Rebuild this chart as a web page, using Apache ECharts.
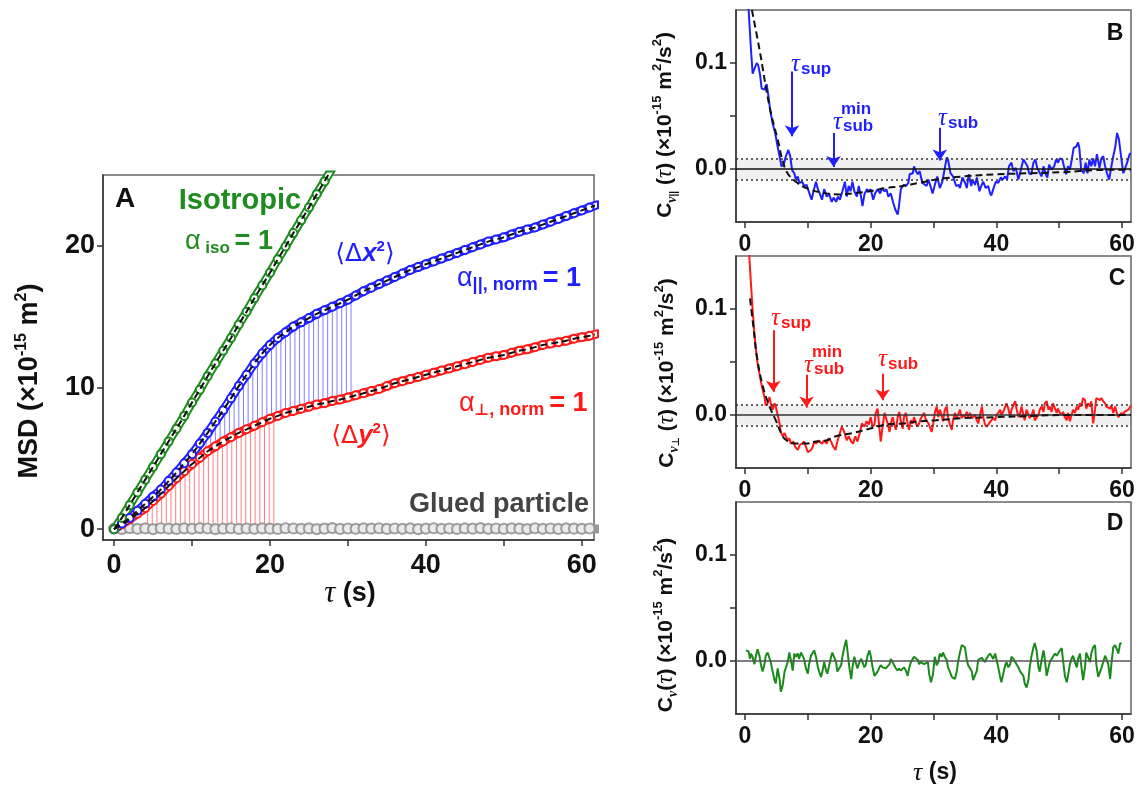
<!DOCTYPE html>
<html>
<head>
<meta charset="utf-8">
<script src="https://cdn.jsdelivr.net/npm/echarts@6.0.0/dist/echarts.min.js"></script>
<style>html,body{margin:0;padding:0;background:#ffffff;}#chart{width:1141px;height:787px;}</style>
</head>
<body>
<div id="chart"></div>
<script>
// ---------- Panel A : MSD ----------
const msdTau = [0,1,2,3,4,5,6,7,8,9,10,11,12,13,14,15,16,17,18,19,20,21,22,23,24,25,26,27,28,29,30,31,32,33,34,35,36,37,38,39,40,41,42,43,44,45,46,47,48,49,50,51,52,53,54,55,56,57,58,59,60,61,62];
const msdX = [0,0.4,0.8,1.3,1.8,2.3,2.8,3.4,4.0,4.65,5.3,6.05,6.8,7.6,8.4,9.25,10.1,10.9,11.7,12.4,13.0,13.5,13.9,14.3,14.6,14.9,15.2,15.45,15.7,15.95,16.2,16.5,16.8,17.05,17.3,17.55,17.8,18.05,18.3,18.5,18.7,18.9,19.1,19.3,19.5,19.7,19.9,20.1,20.3,20.45,20.6,20.8,21.0,21.15,21.3,21.5,21.7,21.9,22.1,22.3,22.5,22.7,22.9];
const msdY = [0,0.35,0.7,1.1,1.5,2.0,2.5,3.05,3.6,4.1,4.6,5.05,5.5,5.85,6.2,6.5,6.8,7.05,7.3,7.55,7.8,8.0,8.2,8.35,8.5,8.65,8.8,8.9,9.05,9.15,9.3,9.45,9.6,9.75,9.9,10.1,10.3,10.45,10.6,10.75,10.9,11.05,11.2,11.35,11.5,11.65,11.8,11.95,12.1,12.2,12.3,12.45,12.6,12.7,12.85,13.0,13.1,13.2,13.3,13.45,13.55,13.65,13.8];
const isoTau = [0,1,2,3,4,5,6,7,8,9,10,11,12,13,14,15,16,17,18,19,20,21,22,23,24,25,26,27,28];
const msdIso = [0,0.8,1.7,2.6,3.5,4.4,5.3,6.2,7.1,8.0,8.95,9.85,10.8,11.7,12.6,13.5,14.45,15.35,16.3,17.2,18.1,19.05,19.95,20.9,21.8,22.7,23.65,24.55,25.5];
const msdGlued = [0.05,0.02,0.08,0.03,0.06,0.01,0.07,0.04,0.02,0.06,0.03,0.08,0.05,0.01,0.04,0.07,0.02,0.05,0.03,0.06,0.04,0.02,0.07,0.05,0.03,0.06,0.01,0.04,0.08,0.02,0.05,0.03,0.06,0.04,0.07,0.02,0.05,0.03,0.06,0.01,0.04,0.07,0.03,0.05,0.02,0.06,0.04,0.08,0.03,0.05,0.02,0.06,0.04,0.01,0.07,0.03,0.05,0.02,0.06,0.04,0.03,0.05,0.02];
const dropRedTau = [4.3,4.9,5.5,6.1,6.7,7.3,7.9,8.5,9.1,9.7,10.3,10.9,11.5,12.1,12.7,13.3,13.9,14.5,15.1,15.7,16.3,16.9,17.5,18.1,18.7,19.3,19.9,20.5];
const dropRedTop = [1.65,1.95,2.25,2.55,2.88,3.2,3.55,3.85,4.15,4.45,4.73,5.0,5.27,5.53,5.75,5.95,6.17,6.35,6.53,6.71,6.88,7.03,7.18,7.33,7.48,7.63,7.78,7.9];
const dropRedBase = 0.3;
const dropBlueTau = [9.4,10.0,10.6,11.2,11.8,12.4,13.0,13.6,14.2,14.8,15.4,16.0,16.6,17.2,17.8,18.4,19.0,19.6,20.2,20.8,21.4,22.0,22.6,23.2,23.8,24.4,25.0,25.6,26.2,26.8,27.4,28.0,28.6,29.2,29.8,30.4];
const dropBlueTop = [4.9,5.3,5.75,6.2,6.65,7.12,7.6,8.08,8.57,9.08,9.59,10.1,10.58,11.06,11.54,11.98,12.4,12.76,13.1,13.4,13.66,13.9,14.14,14.36,14.54,14.72,14.9,15.08,15.25,15.4,15.55,15.7,15.85,16.0,16.15,16.32];
const dropBlueBottom = [4.3,4.6,4.87,5.14,5.41,5.64,5.85,6.06,6.26,6.44,6.62,6.8,6.95,7.1,7.25,7.4,7.55,7.7,7.84,7.96,8.08,8.2,8.29,8.38,8.47,8.56,8.65,8.74,8.82,8.88,8.96,9.05,9.11,9.18,9.27,9.36];
const msdXTicks = [0,10,20,30,40,50,60];
const msdXLabels = [0,20,40,60];
const msdYTicks = [0,10,20];

// ---------- Panel B ----------
const bTau = [0.45,0.58,0.95,1.22,1.5,1.86,2.1,2.4,2.65,3.1,3.45,3.7,4.0,4.4,4.8,5.2,5.6,5.8,6.15,6.5,6.9,7.2,7.5,7.85,8.1,8.4,8.65,9.1,9.4,9.8,10.2,10.6,10.9,11.3,11.6,11.9,12.25,12.6,13.0,13.4,13.8,14.1,14.5,14.8,15.1,15.5,15.9,16.2,16.5,16.8,17.1,17.4,17.8,18.1,18.4,18.7,19.0,19.4,19.7,20.0,20.4,20.7,21.1,21.5,21.8,22.2,22.5,22.8,23.2,23.6,23.9,24.3,24.5,24.8,25.2,25.6,26.0,26.2,26.7,26.9,27.2,27.5,27.8,28.2,28.5,28.9,29.2,29.6,29.85,30.2,30.6,31.0,31.4,31.8,32.1,32.3,32.7,33.1,33.6,34.0,34.2,34.6,35.0,35.3,35.6,36.0,36.2,36.6,36.9,37.3,37.6,37.9,38.3,38.7,39.0,39.2,39.5,39.9,40.3,40.7,41.0,41.4,41.7,42.0,42.4,42.7,43.1,43.5,43.9,44.3,44.6,44.96,45.2,45.55,45.9,46.2,46.5,46.8,47.2,47.5,47.8,48.1,48.4,48.8,49.2,49.5,49.8,50.1,50.5,50.75,51.1,51.4,51.7,52.0,52.3,52.7,53.0,53.2,53.5,53.9,54.2,54.5,54.8,55.1,55.4,55.7,56.0,56.4,56.7,57.0,57.3,57.6,57.95,58.3,58.6,58.9,59.2,59.5,59.9,60.2,60.5,60.8,61.2,61.4];
const bCv = [0.17,0.15,0.113,0.09,0.089,0.10,0.098,0.089,0.076,0.075,0.080,0.070,0.056,0.043,0.034,0.021,0.009,0.0025,0.004,0.012,0.018,0.012,-0.001,-0.004,-0.01,-0.007,-0.013,-0.012,-0.016,-0.015,-0.022,-0.029,-0.021,-0.012,-0.019,-0.023,-0.029,-0.019,-0.026,-0.024,-0.031,-0.027,-0.031,-0.026,-0.029,-0.021,-0.012,-0.026,-0.016,-0.021,-0.012,-0.021,-0.026,-0.016,-0.024,-0.035,-0.024,-0.019,-0.021,-0.019,-0.029,-0.023,-0.019,-0.023,-0.018,-0.021,-0.019,-0.026,-0.023,-0.032,-0.038,-0.043,-0.035,-0.019,-0.015,-0.016,-0.013,-0.005,-0.004,0.0025,-0.002,-0.005,-0.002,-0.013,-0.012,-0.016,-0.010,-0.018,-0.023,-0.015,-0.007,-0.018,-0.012,0.001,0.011,0.009,-0.004,-0.007,-0.016,-0.015,-0.018,-0.008,-0.013,-0.018,-0.005,-0.016,-0.010,-0.015,-0.008,-0.021,-0.016,-0.012,-0.018,-0.016,-0.023,-0.025,-0.019,-0.012,-0.013,-0.008,-0.010,-0.007,-0.010,0.0025,0.006,-0.002,0.001,-0.010,-0.0006,0.009,0.010,0.0025,-0.004,-0.005,0.006,0.009,0.001,0.0025,-0.007,0.0025,-0.004,-0.008,0.004,-0.0006,0.0025,0.009,0.006,0.010,0.009,0.0025,-0.005,0.0025,-0.0006,0.009,0.020,0.021,0.025,0.020,-0.0006,-0.004,0.006,-0.004,0.009,0.0025,0.010,0.0025,0.014,0.001,0.010,0.012,0.0025,-0.004,-0.010,0.0025,0.012,0.020,0.034,0.028,0.009,-0.004,-0.005,0.006,0.014,0.015];
const bFitTau = [1.1,2.3,3.9,5.2,6.5,8.1,10.2,12.9,15.0,17.1,19.8,22.4,25.1,27.7,30.4,32.1,34.8,40.0,45.3,50.6,55.9,61.4];
const bFitCv = [0.15,0.113,0.059,0.028,-0.001,-0.012,-0.019,-0.023,-0.024,-0.023,-0.021,-0.018,-0.016,-0.013,-0.010,-0.0085,-0.007,-0.005,-0.004,-0.003,-0.001,-0.0006];
const bArrowTau = [7.48,14.1,31.0];
const bArrowFrom = [0.092,0.034,0.039];
const bArrowTo = [0.031,0.002,0.008];

// ---------- Panel C ----------
const cTau = [0.55,0.69,0.95,1.22,1.5,1.75,2.0,2.3,2.55,2.8,3.1,3.3,3.6,3.9,4.1,4.4,4.7,4.9,5.2,5.5,5.7,6.0,6.3,6.5,6.8,7.05,7.3,7.7,8.0,8.4,8.75,9.1,9.4,9.7,10.0,10.2,10.5,10.8,11.0,11.3,11.6,11.9,12.25,12.6,13.0,13.3,13.7,14.05,14.4,14.7,15.1,15.4,15.8,16.2,16.5,16.9,17.2,17.55,17.9,18.3,18.6,19.0,19.35,19.7,20.0,20.3,20.6,20.8,21.1,21.4,21.6,21.9,22.2,22.4,22.7,23.0,23.2,23.5,23.75,24.0,24.3,24.55,24.8,25.1,25.3,25.6,25.9,26.1,26.4,26.7,26.9,27.2,27.5,27.7,28.0,28.3,28.5,28.8,29.2,29.7,29.96,30.2,30.5,30.75,31.0,31.3,31.5,31.8,32.1,32.3,32.6,32.9,33.1,33.4,33.7,33.9,34.2,34.5,34.7,35.0,35.3,35.5,35.8,36.1,36.3,36.6,36.9,37.1,37.4,37.7,37.9,38.2,38.4,38.7,39.0,39.2,39.5,39.8,40.0,40.3,40.6,40.8,41.1,41.4,41.6,41.9,42.2,42.4,42.7,43.0,43.2,43.5,43.8,44.0,44.3,44.5,44.8,45.1,45.3,45.6,45.9,46.1,46.4,46.7,46.9,47.2,47.5,47.7,48.0,48.3,48.5,48.8,49.0,49.3,49.6,49.8,50.1,50.4,50.6,50.9,51.2,51.4,51.7,51.96,52.2,52.5,52.8,53.0,53.3,53.5,53.8,54.1,54.3,54.6,54.9,55.1,55.4,55.7,55.9,56.2,56.5,56.7,57.0,57.3,57.5,57.8,58.1,58.3,58.6,58.9,59.1,59.4,59.7,59.9,60.2,60.4,60.7,61.0,61.4];
const cCv = [0.17,0.149,0.124,0.099,0.077,0.061,0.049,0.039,0.031,0.024,0.017,0.009,0.011,0.017,0.011,0.005,0.011,0.008,0.0,-0.008,-0.016,-0.020,-0.017,-0.020,-0.024,-0.022,-0.027,-0.025,-0.030,-0.033,-0.028,-0.027,-0.025,-0.030,-0.035,-0.036,-0.033,-0.030,-0.025,-0.027,-0.024,-0.025,-0.027,-0.024,-0.027,-0.022,-0.025,-0.030,-0.033,-0.025,-0.017,-0.011,-0.016,-0.024,-0.020,-0.025,-0.027,-0.020,-0.025,-0.016,-0.008,-0.011,-0.006,-0.009,-0.002,-0.011,-0.009,0.002,0.006,-0.013,-0.025,-0.011,0.002,0.003,-0.008,-0.016,-0.008,-0.002,-0.009,-0.014,-0.002,0.003,-0.006,-0.013,-0.002,0.002,-0.009,-0.014,-0.005,-0.008,-0.002,-0.008,-0.011,-0.008,-0.003,-0.002,0.002,-0.005,-0.008,-0.016,-0.008,0.002,0.008,-0.002,0.005,0.0,-0.006,0.005,0.008,-0.002,-0.009,-0.014,-0.005,0.002,-0.003,0.0,0.005,-0.003,0.0,-0.002,0.003,-0.002,0.002,-0.003,-0.002,0.0,-0.005,-0.008,0.0,0.008,-0.002,-0.009,-0.011,-0.009,-0.008,-0.005,-0.003,-0.005,0.0,0.002,0.005,0.0,0.003,0.008,0.011,0.006,-0.002,0.005,0.009,0.013,0.006,-0.002,0.002,0.008,0.0,-0.005,0.005,0.006,-0.003,0.0,0.005,-0.005,-0.006,0.0,0.005,0.008,0.003,0.011,0.013,0.005,0.008,0.003,0.011,0.011,0.002,0.006,0.002,0.0,0.003,-0.002,-0.005,0.002,-0.006,0.0,0.005,0.002,0.008,0.005,0.011,0.008,0.016,0.014,0.006,0.011,0.008,0.013,-0.008,0.005,0.016,0.017,0.014,0.016,0.013,0.011,0.008,0.009,0.006,0.009,0.002,0.008,0.003,-0.002,-0.003,0.002,0.0,0.003,0.002,0.005,0.009];
const cFitTau = [0.8,1.3,1.9,2.8,3.9,4.9,5.9,6.6,8.1,9.7,11.3,12.9,14.5,17.1,19.8,22.4,25.1,27.7,30.4,34.7,40.0,45.3,50.6,61.4];
const cFitCv = [0.11,0.085,0.055,0.028,0.008,-0.005,-0.019,-0.024,-0.027,-0.027,-0.025,-0.024,-0.020,-0.017,-0.013,-0.009,-0.008,-0.006,-0.005,-0.003,-0.002,-0.001,0.0,0.0];
const cArrowTau = [4.5,9.8,21.9];
const cArrowFrom = [0.080,0.038,0.039];
const cArrowTo = [0.022,0.007,0.014];

// ---------- Panel D ----------
const dTau = [0.16,0.58,0.8,0.95,1.2,1.5,1.75,2.0,2.3,2.55,2.8,3.1,3.3,3.6,3.9,4.1,4.4,4.7,4.9,5.2,5.5,5.7,6.0,6.3,6.5,6.8,7.05,7.3,7.6,7.85,8.1,8.4,8.6,8.9,9.2,9.4,9.7,10.0,10.2,10.5,10.8,11.0,11.3,11.6,11.8,12.1,12.35,12.6,12.9,13.1,13.4,13.7,13.9,14.2,14.5,14.7,15.0,15.3,15.5,15.8,16.1,16.3,16.6,16.9,17.1,17.4,17.7,17.9,18.2,18.5,18.7,19.0,19.2,19.5,19.8,20.0,20.3,20.6,20.8,21.1,21.4,21.6,21.9,22.2,22.4,22.7,23.0,23.2,23.5,23.75,24.0,24.3,24.5,24.8,25.1,25.3,25.6,25.9,26.1,26.4,26.7,26.9,27.2,27.5,27.7,28.0,28.3,28.5,28.8,29.1,29.3,29.6,29.9,30.2,30.5,30.75,31.0,31.3,31.5,31.8,32.1,32.3,32.6,32.9,33.1,33.4,33.7,33.9,34.2,34.5,34.7,35.0,35.3,35.5,35.8,36.1,36.3,36.6,36.9,37.1,37.4,37.7,37.9,38.2,38.4,38.7,39.0,39.2,39.5,39.8,40.0,40.3,40.6,40.8,41.1,41.4,41.6,41.9,42.2,42.4,42.7,43.0,43.2,43.5,43.8,44.0,44.3,44.5,44.8,45.1,45.3,45.6,45.9,46.1,46.4,46.7,46.9,47.2,47.5,47.7,48.0,48.3,48.5,48.8,49.0,49.3,49.6,49.8,50.1,50.4,50.6,50.9,51.2,51.4,51.7,51.96,52.2,52.5,52.8,53.0,53.3,53.5,53.8,54.1,54.3,54.6,54.9,55.1,55.4,55.7,55.9,56.2,56.5,56.7,57.0,57.3,57.5,57.8,58.1,58.3,58.6,58.9,59.1,59.4,59.7,59.9];
const dCv = [0.010,0.009,0.002,0.007,0.004,-0.003,0.005,0.011,0.005,-0.004,-0.010,-0.003,0.005,0.008,0.008,-0.001,-0.010,-0.018,-0.021,-0.007,-0.017,-0.029,-0.023,-0.010,-0.010,-0.001,0.008,0.001,-0.009,0.007,0.004,0.007,0.002,0.008,0.007,0.002,-0.007,-0.012,-0.003,0.005,0.008,0.010,0.004,-0.006,-0.010,-0.015,-0.009,-0.001,-0.009,-0.012,-0.004,0.004,0.008,0.007,-0.001,-0.010,-0.010,-0.004,0.004,0.013,0.020,0.010,-0.006,-0.017,-0.006,0.004,-0.003,-0.007,-0.001,0.002,0.001,-0.006,-0.004,0.005,0.010,0.005,-0.006,-0.014,-0.015,-0.010,-0.006,-0.004,-0.006,-0.007,-0.007,-0.006,-0.003,0.002,0.001,-0.004,-0.007,-0.009,-0.007,-0.009,-0.010,-0.006,-0.009,-0.014,-0.007,-0.001,0.002,0.004,0.003,0.001,-0.003,-0.001,0.0,-0.003,-0.004,-0.001,-0.012,-0.020,-0.013,0.004,-0.004,-0.001,0.007,0.004,0.008,0.004,0.001,-0.006,-0.010,-0.015,-0.015,-0.017,-0.010,-0.001,0.008,0.015,0.016,0.013,0.001,-0.004,-0.003,-0.010,-0.018,-0.017,-0.009,0.001,0.002,0.003,0.001,-0.001,0.002,0.005,0.007,0.005,0.002,0.007,0.002,-0.006,-0.015,-0.020,-0.012,-0.004,-0.001,-0.006,-0.003,0.004,0.002,-0.001,-0.003,-0.006,-0.010,-0.010,-0.014,-0.021,-0.025,-0.018,-0.006,0.005,0.013,0.017,0.010,-0.006,-0.010,0.001,0.010,0.002,-0.014,-0.006,-0.001,-0.001,0.004,0.007,0.005,0.007,0.010,0.012,0.001,-0.014,-0.020,-0.014,-0.003,0.002,0.005,-0.001,-0.006,0.002,0.007,-0.004,-0.018,-0.006,0.008,0.007,-0.001,0.007,0.013,0.015,-0.003,-0.015,-0.014,-0.007,-0.001,0.005,0.004,-0.003,-0.017,-0.003,0.013,0.015,0.012,0.007,0.017,0.016];
const cvXTicks = [0,10,20,30,40,50,60];
const cvXLabels = [0,20,40,60];
const cvYTicks = [0,0.05,0.1];
const cvYLabels = [0,0.1];
const cvBand = [-0.01,0.01];

// ---------- styling ----------
const SANS = '"Liberation Sans", Arial, sans-serif';
const SERIF = '"Liberation Serif", "Times New Roman", serif';
const SYM = '"DejaVu Sans", sans-serif';
const GREEN = '#1e8c1e', BLUE = '#1f1fff', RED = '#ff1a1a', INK = '#111111';

const zip = (a, b) => a.slice(0, Math.min(a.length, b.length)).map((v, i) => [v, b[i]]);

function xAxisOf(gi, min, max, ticks, labels, fs, margin) {
  return {
    gridIndex: gi, type: 'value', min: min, max: max,
    axisLine: { show: true, onZero: false, lineStyle: { color: '#333', width: 1.5 } },
    axisTick: { show: true, customValues: ticks, length: 6, lineStyle: { color: '#333', width: 1.5 } },
    axisLabel: { customValues: labels, fontSize: fs, fontWeight: 'bold', fontFamily: SANS, color: INK, margin: margin },
    splitLine: { show: false }
  };
}
function yAxisOf(gi, min, max, ticks, labels, fs, margin, fmt) {
  return {
    gridIndex: gi, type: 'value', min: min, max: max,
    axisLine: { show: true, onZero: false, lineStyle: { color: '#333', width: 1.5 } },
    axisTick: { show: true, customValues: ticks, length: 6, lineStyle: { color: '#333', width: 1.5 } },
    axisLabel: { customValues: labels, fontSize: fs, fontWeight: 'bold', fontFamily: SANS, color: INK, margin: margin, formatter: fmt },
    splitLine: { show: false }
  };
}
const vline = color => (params, api) => {
  const a = api.coord([api.value(0), api.value(1)]);
  const b = api.coord([api.value(0), api.value(2)]);
  return { type: 'line', shape: { x1: a[0], y1: a[1], x2: b[0], y2: b[1] }, style: { stroke: color, lineWidth: 1 } };
};
// hollow band (coloured outline, white core) under the open circles, as in the reference
function bandSeries(tau, vals, color, width, z) {
  return { type: 'line', xAxisIndex: 0, yAxisIndex: 0, data: zip(tau, vals), symbol: 'none', smooth: true,
    lineStyle: { width: width, color: color, cap: 'round', join: 'round' }, z: z, clip: true };
}
function circleSeries(tau, vals, color) {
  return { type: 'line', xAxisIndex: 0, yAxisIndex: 0, data: zip(tau, vals), symbol: 'emptyCircle', symbolSize: 8, showSymbol: true,
    itemStyle: { color: color, borderColor: color, borderWidth: 1.3 }, lineStyle: { width: 0, opacity: 0 }, z: 5, clip: true };
}
function fitSeries(xi, tau, vals, smooth) {
  return { type: 'line', xAxisIndex: xi, yAxisIndex: xi, data: zip(tau, vals), symbol: 'none', smooth: smooth,
    lineStyle: { color: INK, width: 2, type: [7, 4] }, z: 6, clip: true };
}
function cvSeries(xi, tau, vals, color) {
  return { type: 'line', xAxisIndex: xi, yAxisIndex: xi, data: zip(tau, vals), symbol: 'none',
    lineStyle: { color: color, width: 2 }, z: 4, clip: true };
}
function refSeries(xi, withDots, zeroColor) {
  const lines = [{ yAxis: 0, lineStyle: { color: zeroColor, width: 1.5, type: 'solid' } }];
  if (withDots) {
    lines.push({ yAxis: cvBand[0], lineStyle: { color: '#333', width: 1.5, type: [2, 3] } });
    lines.push({ yAxis: cvBand[1], lineStyle: { color: '#333', width: 1.5, type: [2, 3] } });
  }
  const s = { type: 'line', xAxisIndex: xi, yAxisIndex: xi, data: [], z: 2,
    markLine: { silent: true, symbol: 'none', label: { show: false }, animation: false, data: lines } };
  if (withDots) {
    s.markArea = { silent: true, itemStyle: { color: 'rgba(0,0,0,0.06)' }, data: [[{ yAxis: cvBand[0] }, { yAxis: cvBand[1] }]] };
  }
  return s;
}
function arrowSeries(xi, tau, from, to, color) {
  return { type: 'line', xAxisIndex: xi, yAxisIndex: xi, data: [], z: 7,
    markLine: { silent: true, symbol: ['none', 'arrow'], symbolSize: 11, label: { show: false }, animation: false,
      lineStyle: { color: color, width: 2, type: 'solid', opacity: 1 },
      itemStyle: { color: color },
      data: tau.map((t, i) => [{ coord: [t, from[i]] }, { coord: [t, to[i]] }]) } };
}

// ---------- text helpers ----------
function T(x, y, text, font, fill, align, vAlign, rot) {
  return { type: 'text', x: x, y: y, rotation: rot || 0, silent: true, z: 100,
    style: { text: text, font: font, fill: fill, align: align || 'left', verticalAlign: vAlign || 'middle' } };
}
function R(x, y, text, rich, align, rot) {
  return { type: 'text', x: x, y: y, rotation: rot || 0, silent: true, z: 100,
    style: { text: text, rich: rich, align: align || 'left', verticalAlign: 'middle' } };
}
const tok = (size, fill, family, weight, style, va, lh) => ({ fontSize: size, fill: fill, fontFamily: family, fontWeight: weight || 'normal', fontStyle: style || 'normal', verticalAlign: va || 'middle', lineHeight: lh || size + 4 });

function cvTitle(x, y, subText, subFont) {
  return R(x, y, '{c|C}{v|v}{p|' + subText + '}{t| (}{tau|τ}{t|) (×10}{sup|-15}{t| m}{sup|2}{t|/s}{sup|2}{t|)}', {
    c: tok(21, INK, SANS, 'bold', null, 'middle', 28),
    v: tok(14, INK, SERIF, 'bold', 'italic', 'bottom', 14),
    p: tok(10, INK, subFont, 'bold', null, 'bottom', 10),
    t: tok(21, INK, SANS, 'bold', null, 'middle', 28),
    tau: tok(23, INK, SERIF, 'normal', 'italic', 'middle', 28),
    sup: tok(13, INK, SANS, 'bold', null, 'top', 13)
  }, 'center', Math.PI / 2);
}
function tauLabel(x, y, sub, color) {
  return [T(x, y, 'τ', 'italic 25px ' + SERIF, color, 'left', 'middle'),
          T(x + 10, y + 5, sub, 'bold 17px ' + SANS, color, 'left', 'middle')];
}
function tauMinSub(x, y, color) {
  return [T(x + 8, y - 13, 'min', 'bold 17px ' + SANS, color, 'left', 'middle'),
          T(x, y, 'τ', 'italic 25px ' + SERIF, color, 'left', 'middle'),
          T(x + 10, y + 4, 'sub', 'bold 17px ' + SANS, color, 'left', 'middle')];
}

const graphics = [
  // panel A
  T(125, 199, 'A', 'bold 28px ' + SANS, INK, 'center'),
  T(240, 201, 'Isotropic', 'bold 29px ' + SANS, GREEN, 'center'),
  R(185, 242, '{a|α}{s| iso }{b|= 1}', {
    a: tok(27, GREEN, SANS, 'normal', null, 'middle', 30), s: tok(17, GREEN, SANS, 'bold', null, 'bottom', 20), b: tok(27, GREEN, SANS, 'bold', null, 'middle', 30) }),
  R(365, 254, '{k|⟨Δ}{x|x}{sup|2}{k|⟩}', {
    k: tok(25, BLUE, SYM, 'normal', null, 'middle', 30), x: tok(26, BLUE, SANS, 'bold', 'italic', 'middle', 30), sup: tok(15, BLUE, SANS, 'bold', null, 'top', 15) }, 'center'),
  R(457, 279, '{a|α}{s|||, norm }{b|= 1}', {
    a: tok(27, BLUE, SANS, 'normal', null, 'middle', 30), s: tok(18, BLUE, SANS, 'bold', null, 'bottom', 22), b: tok(27, BLUE, SANS, 'bold', null, 'middle', 30) }),
  R(459, 404, '{a|α}{q|⊥}{s|, norm }{b|= 1}', {
    a: tok(27, RED, SANS, 'normal', null, 'middle', 30), q: tok(16, RED, SYM, 'bold', null, 'bottom', 22), s: tok(18, RED, SANS, 'bold', null, 'bottom', 22), b: tok(27, RED, SANS, 'bold', null, 'middle', 30) }),
  R(361, 436, '{k|⟨Δ}{x|y}{sup|2}{k|⟩}', {
    k: tok(25, RED, SYM, 'normal', null, 'middle', 30), x: tok(26, RED, SANS, 'bold', 'italic', 'middle', 30), sup: tok(15, RED, SANS, 'bold', null, 'top', 15) }, 'center'),
  T(589, 505, 'Glued particle', 'bold 27px ' + SANS, '#444444', 'right'),
  R(30, 381, '{t|MSD (×10}{sup|-15}{t| m}{sup|2}{t|)}', {
    t: tok(27, INK, SANS, 'bold', null, 'middle', 32), sup: tok(16, INK, SANS, 'bold', null, 'top', 16) }, 'center', Math.PI / 2),
  R(350, 594, '{tau|τ}{t| (s)}', {
    tau: tok(31, INK, SERIF, 'normal', 'italic', 'middle', 34), t: tok(27, INK, SANS, 'bold', null, 'middle', 34) }, 'center'),
  // panels B-D
  T(1115, 34, 'B', 'bold 23px ' + SANS, INK, 'center'),
  T(1117, 279, 'C', 'bold 23px ' + SANS, INK, 'center'),
  T(1115, 524, 'D', 'bold 23px ' + SANS, INK, 'center'),
  cvTitle(665, 125, '||', SANS),
  cvTitle(667, 373, '⊥', SYM),
  R(666, 625, '{c|C}{v|v}{t|(}{tau|τ}{t|) (×10}{sup|-15}{t| m}{sup|2}{t|/s}{sup|2}{t|)}', {
    c: tok(21, INK, SANS, 'bold', null, 'middle', 28), v: tok(14, INK, SERIF, 'bold', 'italic', 'bottom', 14),
    t: tok(21, INK, SANS, 'bold', null, 'middle', 28), tau: tok(23, INK, SERIF, 'normal', 'italic', 'middle', 28),
    sup: tok(13, INK, SANS, 'bold', null, 'top', 13) }, 'center', Math.PI / 2),
  R(935, 773, '{tau|τ}{t| (s)}', {
    tau: tok(26, INK, SERIF, 'normal', 'italic', 'middle', 30), t: tok(23, INK, SANS, 'bold', null, 'middle', 30) }, 'center'),
  ...tauLabel(791, 64, 'sup', BLUE),
  ...tauMinSub(833, 122, BLUE),
  ...tauLabel(938, 118, 'sub', BLUE),
  ...tauLabel(771, 318, 'sup', RED),
  ...tauMinSub(804, 365, RED),
  ...tauLabel(878, 359, 'sub', RED)
];

const cvFmt = v => v.toFixed(1);
const gridStyle = { show: true, borderColor: '#666', borderWidth: 1.5, backgroundColor: 'transparent' };

const option = {
  animation: false,
  backgroundColor: '#ffffff',
  grid: [
    Object.assign({ left: 103, top: 175, width: 491, height: 365 }, gridStyle),
    Object.assign({ left: 736, top: 10, width: 395, height: 212 }, gridStyle),
    Object.assign({ left: 736, top: 256, width: 395, height: 212 }, gridStyle),
    Object.assign({ left: 736, top: 502, width: 395, height: 212 }, gridStyle)
  ],
  xAxis: [
    xAxisOf(0, -1.42, 61.57, msdXTicks, msdXLabels, 27, 12),
    xAxisOf(1, -1.43, 61.42, cvXTicks, cvXLabels, 23, 11),
    xAxisOf(2, -1.43, 61.42, cvXTicks, cvXLabels, 23, 11),
    xAxisOf(3, -1.43, 61.42, cvXTicks, cvXLabels, 23, 11)
  ],
  yAxis: [
    yAxisOf(0, -0.76, 25, msdYTicks, msdYTicks, 27, 8, v => String(v)),
    yAxisOf(1, -0.05, 0.15, cvYTicks, cvYLabels, 23, 9, cvFmt),
    yAxisOf(2, -0.05, 0.15, cvYTicks, cvYLabels, 23, 9, cvFmt),
    yAxisOf(3, -0.05, 0.15, cvYTicks, cvYLabels, 23, 9, cvFmt)
  ],
  graphic: graphics,
  series: [
    // A
    { type: 'custom', xAxisIndex: 0, yAxisIndex: 0, renderItem: vline('#ff8080'), encode: { x: 0, y: [1, 2] }, z: 1,
      data: dropRedTau.map((t, i) => [t, dropRedTop[i], dropRedBase]) },
    { type: 'custom', xAxisIndex: 0, yAxisIndex: 0, renderItem: vline('#8080ff'), encode: { x: 0, y: [1, 2] }, z: 1,
      data: dropBlueTau.map((t, i) => [t, dropBlueTop[i], dropBlueBottom[i]]) },
    { type: 'scatter', xAxisIndex: 0, yAxisIndex: 0, data: zip(msdTau, msdGlued), symbol: 'circle', symbolSize: 10,
      itemStyle: { color: '#ffffff', borderColor: '#8c8c8c', borderWidth: 2.2 }, z: 2 },
    bandSeries(msdTau, msdGlued, '#999999', 9, 2),
    bandSeries(msdTau, msdY, RED, 9, 3),
    bandSeries(msdTau, msdY, '#ffffff', 5, 4),
    bandSeries(msdTau, msdX, BLUE, 9, 3),
    bandSeries(msdTau, msdX, '#ffffff', 5, 4),
    bandSeries(isoTau, msdIso, GREEN, 9, 3),
    bandSeries(isoTau, msdIso, '#ffffff', 5, 4),
    circleSeries(msdTau, msdY, RED),
    circleSeries(msdTau, msdX, BLUE),
    circleSeries(isoTau, msdIso, GREEN),
    fitSeries(0, msdTau, msdY, true),
    fitSeries(0, msdTau, msdX, true),
    fitSeries(0, isoTau, msdIso, false),
    // B
    refSeries(1, true, INK),
    cvSeries(1, bTau, bCv, BLUE),
    fitSeries(1, bFitTau, bFitCv, 0.4),
    arrowSeries(1, bArrowTau, bArrowFrom, bArrowTo, BLUE),
    // C
    refSeries(2, true, '#333'),
    cvSeries(2, cTau, cCv, RED),
    fitSeries(2, cFitTau, cFitCv, 0.4),
    arrowSeries(2, cArrowTau, cArrowFrom, cArrowTo, RED),
    // D
    refSeries(3, false, '#555'),
    cvSeries(3, dTau, dCv, '#1a8a1a')
  ]
};

const chart = echarts.init(document.getElementById('chart'), null, { renderer: 'canvas', width: 1141, height: 787 });
chart.setOption(option);
</script>
</body>
</html>
